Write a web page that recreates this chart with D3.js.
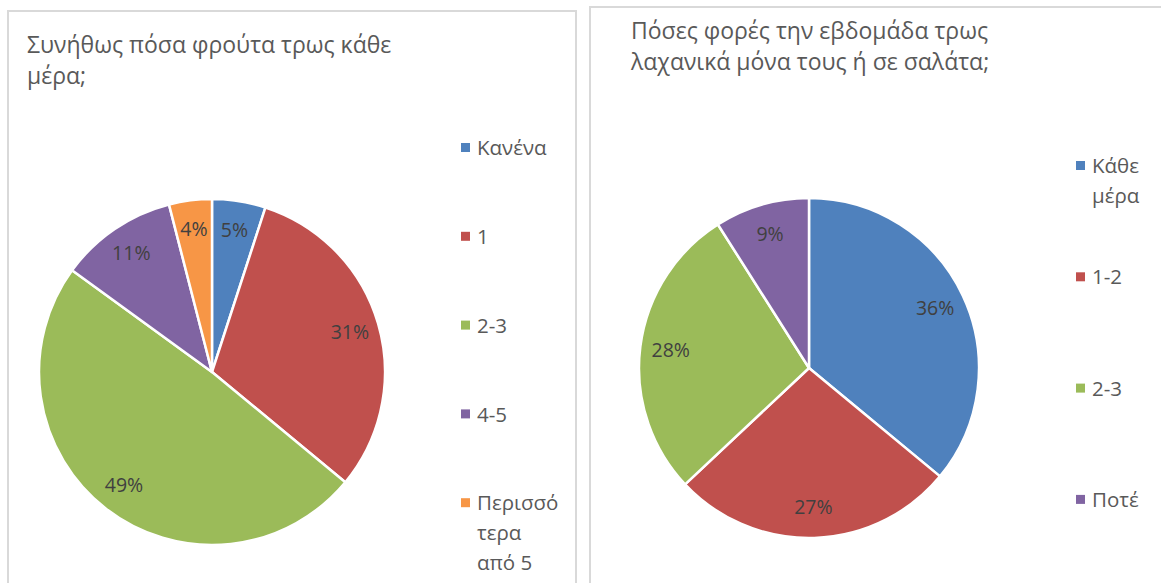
<!DOCTYPE html>
<html>
<head>
<meta charset="utf-8">
<script src="https://cdn.jsdelivr.net/npm/d3@7"></script>
<style>
  html, body { margin: 0; padding: 0; background: #fff; }
  svg { display: block; }
  text { font-family: "Open Sans", "Noto Sans", sans-serif; }
</style>
</head>
<body>
<svg id="chart" width="1161" height="583"></svg>
<script>
// ---- Data ----
const fruitCategories = ["Κανένα", "1", "2-3", "4-5", "Περισσότερα από 5"];
const fruitValues = [5, 31, 49, 11, 4];
const fruitLegendLines = [["Κανένα"], ["1"], ["2-3"], ["4-5"], ["Περισσό", "τερα", "από 5"]];
const fruitTitle = ["Συνήθως πόσα φρούτα τρως κάθε", "μέρα;"];

const vegCategories = ["Κάθε μέρα", "1-2", "2-3", "Ποτέ"];
const vegValues = [36, 27, 28, 9];
const vegLegendLines = [["Κάθε", "μέρα"], ["1-2"], ["2-3"], ["Ποτέ"]];
const vegTitle = ["Πόσες φορές την εβδομάδα τρως", "λαχανικά μόνα τους ή σε σαλάτα;"];

const palette = ["#4F81BD", "#C0504D", "#9BBB59", "#8064A2", "#F79646"];

const svg = d3.select("#chart");

function drawPanel(cfg) {
  const g = svg.append("g");
  g.append("rect")
    .attr("x", cfg.box[0]).attr("y", cfg.box[1])
    .attr("width", cfg.box[2]).attr("height", cfg.box[3])
    .attr("fill", "#fff").attr("stroke", "#D9D9D9").attr("stroke-width", 2);

  const t = g.append("text")
    .attr("x", cfg.titleX).attr("y", cfg.titleY)
    .attr("fill", "#595959").attr("font-size", cfg.titleSize);
  cfg.title.forEach((line, i) => {
    t.append("tspan").attr("x", cfg.titleX).attr("dy", i === 0 ? 0 : cfg.titleLH).text(line);
  });

  const color = d3.scaleOrdinal().domain(cfg.categories).range(palette);
  const pie = d3.pie().sort(null).value(d => d.v);
  const data = pie(cfg.categories.map((c, i) => ({ c, v: cfg.values[i] })));
  const arc = d3.arc().innerRadius(0).outerRadius(cfg.r);
  const labelArc = d3.arc().innerRadius(cfg.r * cfg.lf).outerRadius(cfg.r * cfg.lf);

  const pg = g.append("g").attr("transform", `translate(${cfg.cx},${cfg.cy})`);
  pg.selectAll("path.slice").data(data).join("path")
    .attr("class", "slice")
    .attr("d", arc)
    .attr("fill", d => color(d.data.c))
    .attr("stroke", "#fff").attr("stroke-width", 2.5).attr("stroke-linejoin", "round");

  pg.selectAll("text.lbl").data(data).join("text")
    .attr("class", "lbl")
    .attr("transform", d => `translate(${labelArc.centroid(d)})`)
    .attr("text-anchor", "middle").attr("dy", "0.35em")
    .attr("fill", "#404040").attr("font-size", 19.5)
    .text(d => d.data.v + "%");

  const lg = g.append("g");
  cfg.categories.forEach((c, i) => {
    const y = cfg.legY + i * cfg.legStep;
    lg.append("rect").attr("x", cfg.legX).attr("y", y - 5).attr("width", 9).attr("height", 9)
      .attr("fill", color(c));
    const tx = lg.append("text").attr("x", cfg.legX + 16).attr("y", y)
      .attr("fill", "#595959").attr("font-size", 20.5);
    cfg.legendLines[i].forEach((ln, j) => {
      tx.append("tspan").attr("x", cfg.legX + 16).attr("dy", j === 0 ? "0.35em" : 30).text(ln);
    });
  });
}

drawPanel({
  box: [8, 11, 568, 600],
  title: fruitTitle, titleX: 27, titleY: 53, titleSize: 23, titleLH: 31,
  categories: fruitCategories, values: fruitValues, legendLines: fruitLegendLines,
  cx: 212, cy: 372, r: 173, lf: 0.83,
  legX: 461, legY: 148, legStep: 88.8
});

drawPanel({
  box: [590, 7, 600, 600],
  title: vegTitle, titleX: 631, titleY: 39, titleSize: 23, titleLH: 31,
  categories: vegCategories, values: vegValues, legendLines: vegLegendLines,
  cx: 809, cy: 368, r: 170, lf: 0.82,
  legX: 1076, legY: 166, legStep: 111.3
});
</script>
</body>
</html>
